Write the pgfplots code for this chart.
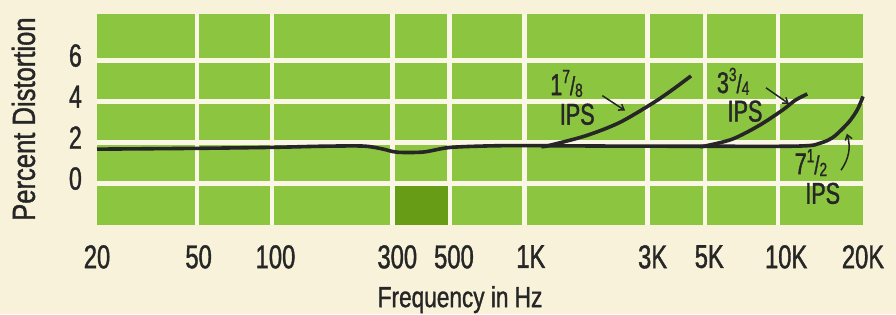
\documentclass[border=0pt]{standalone}
\usepackage{fontspec}
\setmainfont{Liberation Sans}[FakeStretch=0.72, FakeBold=1.2]
\newfontfamily\ylabfont{Liberation Sans}[FakeStretch=0.80, FakeBold=1.2]
\newfontfamily\xlabfont{Liberation Sans}[FakeStretch=0.78, FakeBold=1.2]
\usepackage{pgfplots}
\pgfplotsset{compat=1.18}
\usetikzlibrary{arrows.meta}
\definecolor{bgc}{HTML}{F7F2D9}
\definecolor{gr}{HTML}{8CC540}
\definecolor{dgr}{HTML}{679C16}
\definecolor{gridc}{HTML}{FAF7E6}
\definecolor{ink}{HTML}{262626}
\newcommand\fr[2]{\smash{\raisebox{0.40em}{\fontsize{19}{19}\selectfont #1}{\fontsize{26}{26}\selectfont /}\raisebox{-0.06em}{\fontsize{19}{19}\selectfont #2}}}
\begin{document}
\begin{tikzpicture}
\fill[bgc] (0,0) rectangle (896pt,314pt);
\begin{axis}[
  at={(97pt,89pt)}, anchor=south west,
  scale only axis, width=766pt, height=211pt,
  xmode=log, xmin=20, xmax=20000, ymin=-2.02, ymax=8.27,
  axis line style={draw=none},
  axis background/.style={fill=gr},
  tick style={draw=none},
  /pgf/number format/assume math mode=true,
  xtick={49.2,96.7,287,480,944,2858,4818,9296},
  xticklabels={},
  extra x ticks={20,50,100,300,500,1000,3000,5000,10000,20000},
  extra x tick labels={20,50,100,300,500,1K,3K,5K,10K,20K},
  extra x tick style={grid=none, tick style={draw=none}},
  ytick={0,2,4,6}, yticklabels={0,2,4,6},
  grid=major,
  major grid style={draw=gridc, line width=4.5pt},
  xticklabel style={font=\fontsize{33}{38}\selectfont, text=ink, inner sep=0pt, anchor=north, yshift=-20pt},
  yticklabel style={font=\fontsize{32}{37}\selectfont, text=ink, inner sep=0pt, anchor=east, xshift=-15pt, yshift=5pt},
  xlabel={Frequency in Hz},
  ylabel={Percent Distortion},
  xlabel style={font=\xlabfont\fontsize{29}{34}\selectfont, text=ink, at={(axis description cs:0.474,-0.389)}, anchor=base, inner sep=0pt},
  ylabel style={font=\ylabfont\fontsize{32}{37}\selectfont, text=ink, at={(axis description cs:-0.096,0.502)}, anchor=center, rotate=0, inner sep=0pt},
  clip=false,
]
% dark block between 300 and 500 Hz, bottom row
\addplot[fill=dgr, draw=none] coordinates {(292.7,-2.02) (472,-2.02) (472,-0.11) (292.7,-0.11)} -- cycle;
% baseline + 7 1/2 IPS
\addplot[ink, line width=3.6pt, smooth, tension=0.5] coordinates {
 (20,1.68) (50,1.72) (100,1.77) (150,1.82) (220,1.83) (260,1.7) (300,1.53) (380,1.54) (480,1.76) (700,1.84) (1000,1.85) (2000,1.83) (5000,1.82) (10000,1.82) (12500,1.86) (13400,1.95) (14500,2.1) (15600,2.35) (17600,3.0) (19000,3.6) (20000,4.25)};
% 1 7/8 IPS
\addplot[ink, line width=3.6pt, smooth, tension=0.5] coordinates {
 (1100,1.8) (1180,1.86) (1640,2.33) (2220,2.97) (3000,3.92) (3590,4.58) (4240,5.25)};
% 3 3/4 IPS
\addplot[ink, line width=3.6pt, smooth, tension=0.5] coordinates {
 (4600,1.8) (4850,1.84) (6160,2.17) (7830,2.83) (9670,3.58) (10900,4.08) (12100,4.37)};
% annotations
\node[text=ink, font=\fontsize{30}{34}\selectfont, inner sep=0pt] at (axis cs:1380,4.82) {1\fr{7}{8}};
\node[text=ink, font=\fontsize{30}{34}\selectfont, inner sep=0pt] at (axis cs:1520,3.38) {IPS};
\draw[ink, line width=1.5pt, -{Straight Barb[length=5pt,width=7pt]}] (axis cs:1905,4.29) -- (axis cs:2340,3.56);
\node[text=ink, font=\fontsize{30}{34}\selectfont, inner sep=0pt] at (axis cs:6200,4.92) {3\fr{3}{4}};
\node[text=ink, font=\fontsize{30}{34}\selectfont, inner sep=0pt] at (axis cs:6900,3.53) {IPS};
\draw[ink, line width=1.5pt, -{Straight Barb[length=5pt,width=7pt]}] (axis cs:8340,4.67) -- (axis cs:10260,3.89);
\node[text=ink, font=\fontsize{30}{34}\selectfont, inner sep=0pt] at (axis cs:12500,0.96) {7\fr{1}{2}};
\node[text=ink, font=\fontsize{30}{34}\selectfont, inner sep=0pt] at (axis cs:13900,-0.48) {IPS};
\draw[ink, line width=1.5pt, -{Straight Barb[length=5pt,width=7pt]}] (axis cs:16400,0.65) to[bend right=25] (axis cs:17300,2.44);
\end{axis}
\pgfresetboundingbox
\path[use as bounding box] (0,0) rectangle (896pt,314pt);
\end{tikzpicture}
\end{document}
